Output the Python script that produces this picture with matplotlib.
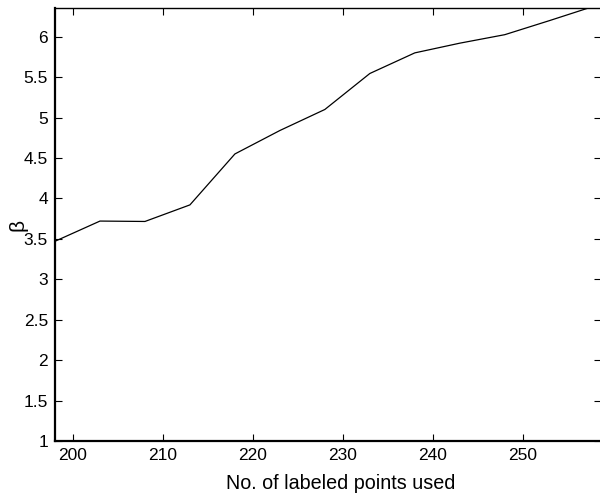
import matplotlib
matplotlib.use("Agg")
import matplotlib.pyplot as plt

x_points = [198, 203, 208, 213, 218, 223, 228, 233, 238, 243, 248, 253, 258]
beta_vals = [3.47, 3.72, 3.715, 3.92, 4.55, 4.84, 5.10, 5.545, 5.80, 5.92, 6.025, 6.20, 6.38]
x_ticks = [200, 210, 220, 230, 240, 250]
y_ticks = [1, 1.5, 2, 2.5, 3, 3.5, 4, 4.5, 5, 5.5, 6]

plt.rcParams['font.family'] = ['Liberation Sans', 'DejaVu Sans']

fig = plt.figure(figsize=(6.0, 4.95), dpi=100)
ax = fig.add_axes([55/600, 1-441/495, (601-55)/600, (441-8)/495])
ax.plot(x_points, beta_vals, color='black', linewidth=0.9)
ax.set_xlim(198, 258.7)
ax.set_ylim(1, 6.355)
ax.set_xticks(x_ticks)
ax.set_yticks(y_ticks)
ax.set_yticklabels([f"{v:g}" for v in y_ticks])
ax.tick_params(direction='in', length=5, width=0.8, top=True, right=True, labelsize=12.5, pad=5)
for s in ['left', 'bottom']:
    ax.spines[s].set_linewidth(1.6)
for s in ['top', 'right']:
    ax.spines[s].set_linewidth(1.0)
ax.set_xlabel('No. of labeled points used', fontsize=14.2, labelpad=8)
ax.xaxis.label.set_x((341-55)/546)
ax.set_ylabel('β', fontsize=15, labelpad=-2.5)
fig.savefig('out.png', dpi=100)
